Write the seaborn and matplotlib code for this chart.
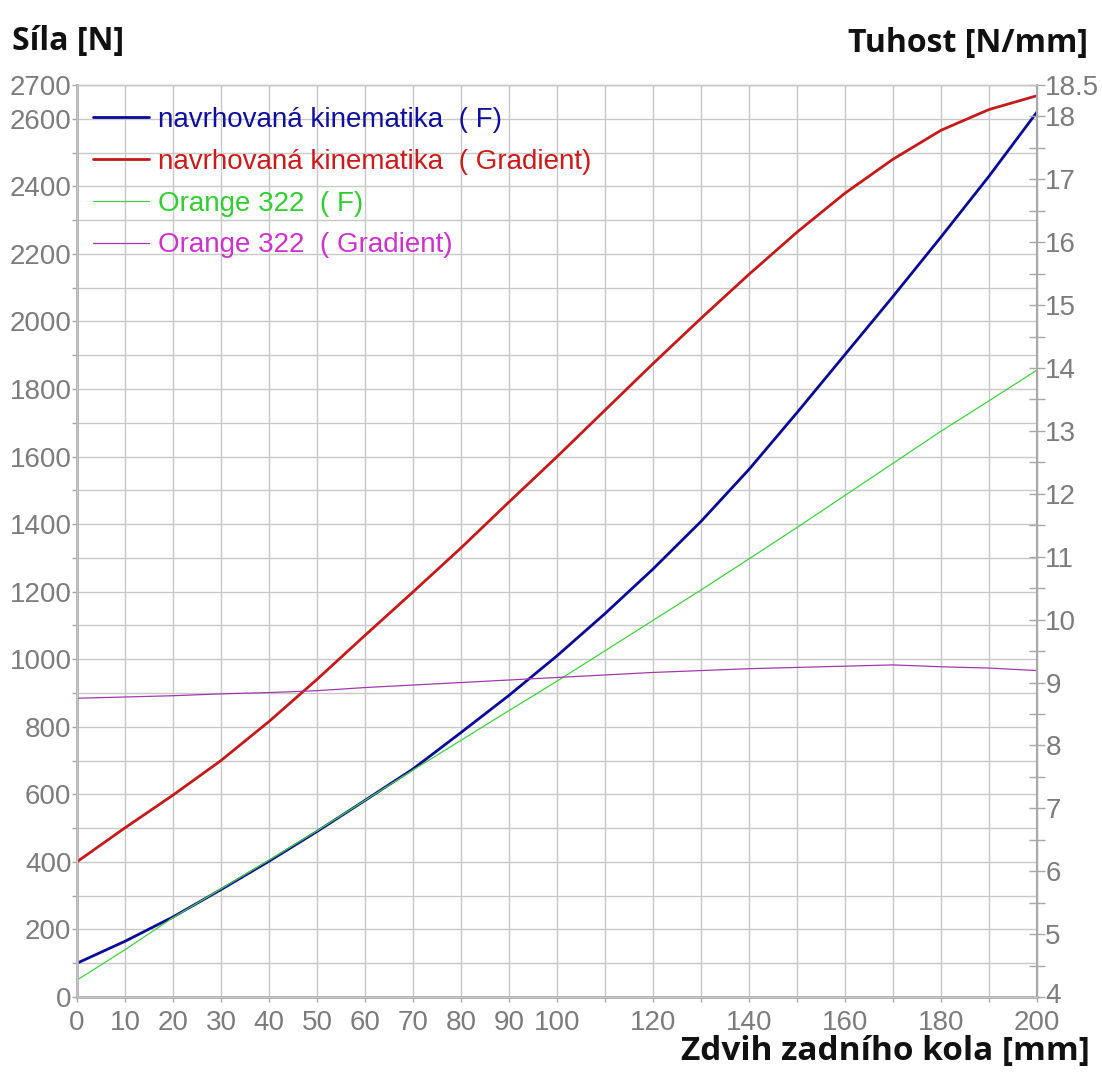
import matplotlib
matplotlib.use("Agg")
import matplotlib.pyplot as plt
import matplotlib.transforms as mtransforms
import seaborn as sns
import pandas as pd
from matplotlib.ticker import FixedLocator, MultipleLocator

# ---- data ----
zdvih_mm = [0, 10, 20, 30, 40, 50, 60, 70, 80, 90, 100,
            110, 120, 130, 140, 150, 160, 170, 180, 190, 200]
navrh_F = [100, 165, 237, 318, 402, 490, 582, 675, 783, 893, 1010,
           1135, 1267, 1408, 1562, 1730, 1902, 2074, 2250, 2430, 2620]
orange_F = [50, 140, 235, 320, 405, 492, 582, 672, 760, 848, 935,
            1025, 1115, 1205, 1297, 1390, 1485, 1580, 1675, 1765, 1856]
navrh_grad = [6.15, 6.69, 7.21, 7.76, 8.38, 9.05, 9.75, 10.44, 11.14, 11.87, 12.59,
              13.33, 14.07, 14.79, 15.49, 16.16, 16.78, 17.32, 17.78, 18.11, 18.33]
orange_grad = [8.75, 8.77, 8.79, 8.82, 8.84, 8.87, 8.92, 8.96, 9.00, 9.04, 9.08,
               9.12, 9.16, 9.19, 9.22, 9.24, 9.26, 9.28, 9.25, 9.23, 9.19]

x_ticks_labeled = [0, 10, 20, 30, 40, 50, 60, 70, 80, 90, 100, 120, 140, 160, 180, 200]
left_ticks = [0, 200, 400, 600, 800, 1000, 1200, 1400, 1600, 1800, 2000, 2200, 2400, 2600, 2700]
right_ticks = [4, 5, 6, 7, 8, 9, 10, 11, 12, 13, 14, 15, 16, 17, 18, 18.5]

labels = ["navrhovaná kinematika  ( F)", "navrhovaná kinematika  ( Gradient)",
          "Orange 322  ( F)", "Orange 322  ( Gradient)"]
line_colors = ["#0a0a96", "#c41a1a", "#44cc44", "#a03aa8"]
text_colors = ["#10109e", "#cc1a1a", "#33cc33", "#cc33cc"]

df = pd.DataFrame({"x": zdvih_mm, "nF": navrh_F, "oF": orange_F,
                   "nG": navrh_grad, "oG": orange_grad})

sns.set_style("white")
plt.rcParams["font.family"] = ["Liberation Sans", "DejaVu Sans"]
plt.rcParams["lines.solid_joinstyle"] = "round"

W, H = 1102, 1073
fig = plt.figure(figsize=(W / 100, H / 100), dpi=100)
ax = fig.add_axes([77 / W, 1 - 997 / H, 960 / W, 912 / H])
ax2 = ax.twinx()

grid_c = "#c8c8c8"
spine_c = "#a8a8a8"
tick_c = "#7c7c7c"

sns.lineplot(data=df, x="x", y="nF", ax=ax, color=line_colors[0], linewidth=2.0, label=labels[0])
sns.lineplot(data=df, x="x", y="oF", ax=ax, color=line_colors[2], linewidth=0.9, label=labels[2])
sns.lineplot(data=df, x="x", y="nG", ax=ax2, color=line_colors[1], linewidth=2.0, label=labels[1])
sns.lineplot(data=df, x="x", y="oG", ax=ax2, color=line_colors[3], linewidth=0.9, label=labels[3])
for a in (ax, ax2):
    lg = a.get_legend()
    if lg is not None:
        lg.remove()

ax.set_xlim(0, 200)
ax.set_ylim(0, 2700)
ax2.set_ylim(4, 18.5)

# x ticks
ax.xaxis.set_major_locator(FixedLocator(x_ticks_labeled))
ax.set_xticklabels([str(v) for v in x_ticks_labeled])
ax.xaxis.set_minor_locator(FixedLocator([110, 130, 150, 170, 190]))
# left ticks
ax.yaxis.set_major_locator(FixedLocator(left_ticks))
ax.set_yticklabels([str(v) for v in left_ticks])
ax.yaxis.set_minor_locator(MultipleLocator(100))
# right ticks
ax2.yaxis.set_major_locator(FixedLocator(right_ticks))
ax2.set_yticklabels([("%g" % v) for v in right_ticks])
ax2.yaxis.set_minor_locator(MultipleLocator(0.5))

ax.grid(True, which="both", axis="both", color=grid_c, linewidth=1.0)
ax.set_axisbelow(True)

ax.tick_params(axis="both", which="both", colors=spine_c, labelcolor=tick_c,
               labelsize=20, direction="out", length=3.5, width=1.0)
ax.tick_params(axis="x", which="both", pad=6)
ax.tick_params(axis="y", which="both", pad=0.5, left=True)
ax.tick_params(axis="x", bottom=True, which="both")
ax2.tick_params(axis="y", which="both", colors=spine_c, labelcolor=tick_c,
                labelsize=20, direction="inout", length=12, width=1.0, pad=0, right=True)

for a in (ax, ax2):
    for s in a.spines.values():
        s.set_color(grid_c)
        s.set_linewidth(1.0)
ax.spines["left"].set_color(spine_c)
ax.spines["left"].set_linewidth(2.0)
ax.spines["bottom"].set_color(spine_c)
ax.spines["bottom"].set_linewidth(2.0)
ax2.spines["right"].set_color(spine_c)
ax2.spines["right"].set_linewidth(1.5)

ax.set_xlabel("")
ax.set_ylabel("")
ax2.set_ylabel("")

# nudge the lowest right-hand label ("4") up so it clears "200"
t0 = ax2.yaxis.get_major_ticks()[0].label2
t0.set_transform(t0.get_transform() + mtransforms.ScaledTranslation(0, 4 / 100, fig.dpi_scale_trans))

# combined legend
h1, l1 = ax.get_legend_handles_labels()
h2, l2 = ax2.get_legend_handles_labels()
hd = dict(zip(l1 + l2, h1 + h2))
handles = [hd[l] for l in labels]
leg = ax2.legend(handles, labels, loc="upper left", frameon=False,
                 bbox_to_anchor=(16 / 960, 1 - 22 / 912), borderaxespad=0, borderpad=0,
                 fontsize=20, handlelength=2.0, handletextpad=0.33, labelspacing=0.57)
for t, c in zip(leg.get_texts(), text_colors):
    t.set_color(c)

title_font = dict(family=["Open Sans", "DejaVu Sans"], weight="bold", color="#111111")
fig.text(12 / W, 1 - 42 / H, "Síla [N]", ha="left", va="center", size=23, **title_font)
fig.text(1088 / W, 1 - 43 / H, "Tuhost [N/mm]", ha="right", va="center", size=23, **title_font)
fig.text(1090 / W, 1 - 1052 / H, "Zdvih zadního kola [mm]", ha="right", va="center", size=24, **title_font)

fig.savefig("out.png", dpi=100, facecolor="white")
